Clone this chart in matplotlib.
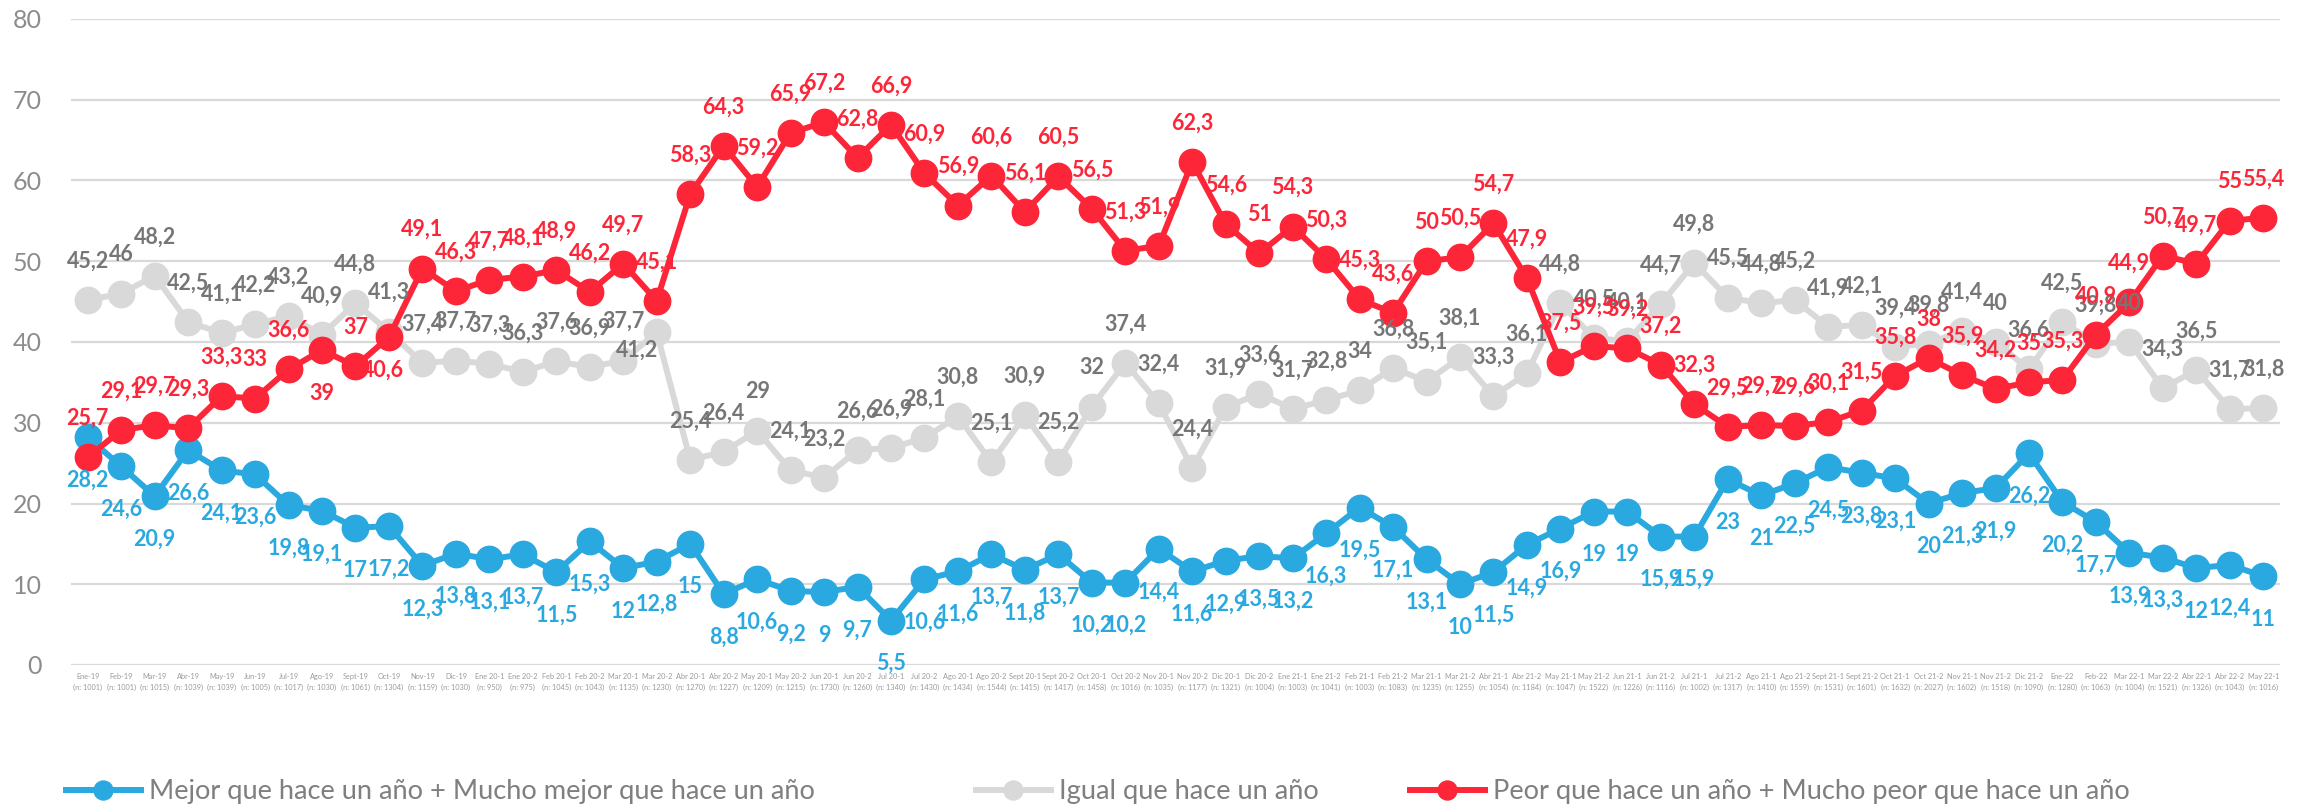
import matplotlib
matplotlib.use("Agg")
import matplotlib.pyplot as plt
from matplotlib.lines import Line2D

plt.rcParams['font.family'] = ['Lato', 'DejaVu Sans']

meses = ["Ene-19", "Feb-19", "Mar-19", "Abr-19", "May-19", "Jun-19", "Jul-19", "Ago-19",
         "Sept-19", "Oct-19", "Nov-19", "Dic-19", "Ene 20-1", "Ene 20-2", "Feb 20-1", "Feb 20-2",
         "Mar 20-1", "Mar 20-2", "Abr 20-1", "Abr 20-2", "May 20-1", "May 20-2", "Jun 20-1", "Jun 20-2",
         "Jul 20-1", "Jul 20-2", "Ago 20-1", "Ago 20-2", "Sept 20-1", "Sept 20-2", "Oct 20-1", "Oct 20-2",
         "Nov 20-1", "Nov 20-2", "Dic 20-1", "Dic 20-2", "Ene 21-1", "Ene 21-2", "Feb 21-1", "Feb 21-2",
         "Mar 21-1", "Mar 21-2", "Abr 21-1", "Abr 21-2", "May 21-1", "May 21-2", "Jun 21-1", "Jun 21-2",
         "Jul 21-1", "Jul 21-2", "Ago 21-1", "Ago 21-2", "Sept 21-1", "Sept 21-2", "Oct 21-1", "Oct 21-2",
         "Nov 21-1", "Nov 21-2", "Dic 21-2", "Ene-22", "Feb-22", "Mar 22-1", "Mar 22-2", "Abr 22-1",
         "Abr 22-2", "May 22-1"]
muestra = [1001, 1001, 1015, 1039, 1039, 1005, 1017, 1030, 1061, 1304, 1159, 1030, 950, 975, 1045, 1043,
           1135, 1230, 1270, 1227, 1209, 1215, 1730, 1260, 1340, 1430, 1434, 1544, 1415, 1417, 1458, 1016,
           1035, 1177, 1321, 1004, 1003, 1041, 1003, 1083, 1235, 1255, 1054, 1184, 1047, 1522, 1226, 1116,
           1002, 1317, 1410, 1559, 1531, 1601, 1632, 2027, 1602, 1518, 1090, 1280, 1063, 1004, 1521, 1326,
           1043, 1016]

mejor = [28.2, 24.6, 20.9, 26.6, 24.1, 23.6, 19.8, 19.1, 17, 17.2, 12.3, 13.8, 13.1, 13.7, 11.5, 15.3,
         12, 12.8, 15, 8.8, 10.6, 9.2, 9, 9.7, 5.5, 10.6, 11.6, 13.7, 11.8, 13.7, 10.2, 10.2,
         14.4, 11.6, 12.9, 13.5, 13.2, 16.3, 19.5, 17.1, 13.1, 10, 11.5, 14.9, 16.9, 19, 19, 15.9,
         15.9, 23, 21, 22.5, 24.5, 23.8, 23.1, 20, 21.3, 21.9, 26.2, 20.2, 17.7, 13.9, 13.3, 12,
         12.4, 11]
igual = [45.2, 46, 48.2, 42.5, 41.1, 42.2, 43.2, 40.9, 44.8, 41.3, 37.4, 37.7, 37.3, 36.3, 37.6, 36.9,
         37.7, 41.2, 25.4, 26.4, 29, 24.1, 23.2, 26.6, 26.9, 28.1, 30.8, 25.1, 30.9, 25.2, 32, 37.4,
         32.4, 24.4, 31.9, 33.6, 31.7, 32.8, 34, 36.8, 35.1, 38.1, 33.3, 36.1, 44.8, 40.5, 40.1, 44.7,
         49.8, 45.5, 44.8, 45.2, 41.9, 42.1, 39.4, 39.8, 41.4, 40, 36.6, 42.5, 39.8, 40, 34.3, 36.5,
         31.7, 31.8]
peor = [25.7, 29.1, 29.7, 29.3, 33.3, 33, 36.6, 39, 37, 40.6, 49.1, 46.3, 47.7, 48.1, 48.9, 46.2,
        49.7, 45.1, 58.3, 64.3, 59.2, 65.9, 67.2, 62.8, 66.9, 60.9, 56.9, 60.6, 56.1, 60.5, 56.5, 51.3,
        51.9, 62.3, 54.6, 51, 54.3, 50.3, 45.3, 43.6, 50, 50.5, 54.7, 47.9, 37.5, 39.5, 39.2, 37.2,
        32.3, 29.5, 29.7, 29.6, 30.1, 31.5, 35.8, 38, 35.9, 34.2, 35, 35.3, 40.9, 44.9, 50.7, 49.7,
        55, 55.4]

nombres = ["Mejor que hace un año + Mucho mejor que hace un año",
           "Igual que hace un año",
           "Peor que hace un año + Mucho peor que hace un año"]

AZUL = "#2AA9E0"
GRIS = "#D9D9D9"
GRIS_TXT = "#767676"
ROJO = "#FD2639"


def fmt(v):
    return f"{v:g}".replace(".", ",")


fig = plt.figure(figsize=(23.13, 8.11), dpi=100)
ax = fig.add_axes([71 / 2313, 146 / 811, (2280 - 71) / 2313, (665 - 19) / 811])

x = list(range(len(meses)))
lw = 4.3
ms = 19

ax.plot(x, igual, color=GRIS, lw=lw, marker="o", ms=ms, zorder=3)
ax.plot(x, mejor, color=AZUL, lw=lw, marker="o", ms=ms, zorder=4)
ax.plot(x, peor, color=ROJO, lw=lw, marker="o", ms=ms, zorder=5)

# etiquetas: azul debajo, gris y rojo encima (con algunas excepciones)
ARRIBA, ABAJO = 28, -31
excepciones = {("peor", 7): (0, ABAJO), ("peor", 9): (-4, -24), ("igual", 17): (-14, -13)}

for nombre, serie, color, z in [("mejor", mejor, AZUL, 6), ("igual", igual, GRIS_TXT, 7),
                                 ("peor", peor, ROJO, 8)]:
    base = (0, ABAJO) if nombre == "mejor" else (0, ARRIBA)
    for i, v in enumerate(serie):
        off = excepciones.get((nombre, i), base)
        ax.annotate(fmt(v), (i, v), xytext=off, textcoords="offset points",
                    ha="center", va="center", fontsize=15.5, fontweight="bold",
                    color=color, zorder=z)

ax.set_xlim(-0.5, len(meses) - 0.5)
ax.set_ylim(0, 80)
ax.set_yticks(range(0, 81, 10))
ax.set_xticks(x)
ax.set_xticklabels([f"{m}\n(n: {n})" for m, n in zip(meses, muestra)],
                   fontsize=5.3, color="#9a9a9a", linespacing=1.55)
ax.tick_params(axis="x", length=0, pad=6)
ax.tick_params(axis="y", length=0, pad=21, labelsize=18, labelcolor="#8c8c8c")
ax.grid(axis="y", color=GRIS, lw=1.6, zorder=0)
ax.set_axisbelow(True)
for s in ax.spines.values():
    s.set_visible(False)

# leyenda: tres entradas sueltas como en el original
colores = [AZUL, GRIS, ROJO]
pos_x = [66, 976, 1410]
for nom, col, px in zip(nombres, colores, pos_x):
    h = Line2D([], [], color=col, lw=lw, marker="o", ms=ms)
    fig.legend(handles=[h], labels=[nom], loc="center left",
               bbox_to_anchor=(px / 2313, 19 / 811), frameon=False,
               borderpad=0, borderaxespad=0, handlelength=2.75, handletextpad=0.3,
               markerscale=0.72, prop={"size": 19.6}, labelcolor="#7f7f7f")

fig.savefig("out.png", dpi=100)
